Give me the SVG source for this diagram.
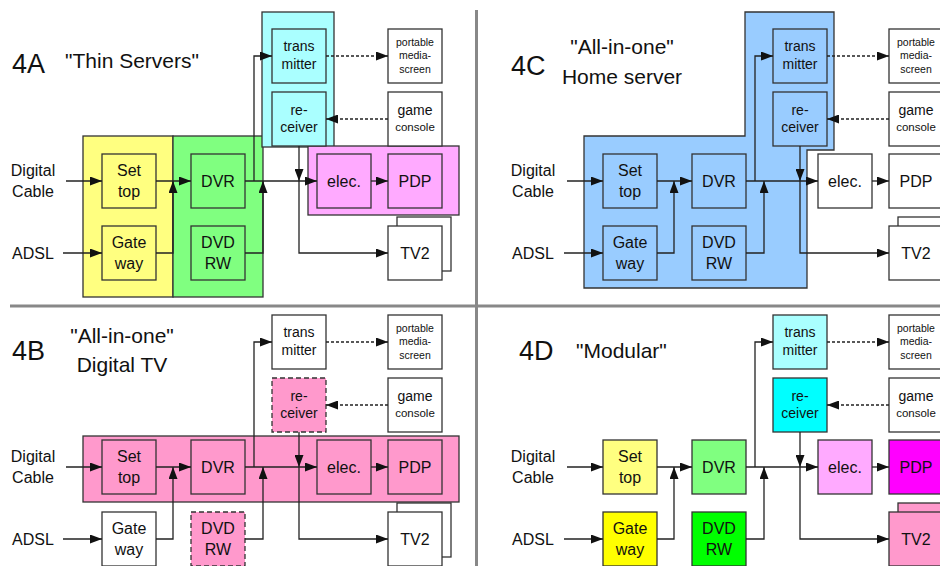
<svg xmlns="http://www.w3.org/2000/svg" width="940" height="566" viewBox="0 0 940 566">
<defs>
<marker id="arr" viewBox="0 0 12 9" refX="12" refY="4.5" markerWidth="12" markerHeight="9" markerUnits="userSpaceOnUse" orient="auto">
<path d="M0,0 L12,4.5 L0,9 z" fill="#111"/>
</marker>
<style>
text { font-family: "Liberation Sans", Arial, Helvetica, sans-serif; fill:#111; }
.l { font-size:16px; text-anchor:middle; }
.m { font-size:14px; text-anchor:middle; }
.s { font-size:10.5px; text-anchor:middle; }
.c { font-size:11.5px; text-anchor:middle; }
.t { font-size:21px; }
.tm { font-size:21px; text-anchor:middle; }
.big { font-size:27px; }
.box { stroke:#333; stroke-width:1.3; }
.grp { stroke:#333; stroke-width:1.3; }
.dsh { stroke-dasharray:5 3; }
.conn { fill:none; stroke:#222; stroke-width:1.3; }
.dl { stroke-dasharray:3 2; }
.div { stroke:#888; stroke-width:3; }
</style>
</defs>
<rect width="940" height="566" fill="#fff"/>

<!-- dividers -->
<line class="div" x1="476.5" y1="10" x2="476.5" y2="566"/>
<line class="div" x1="10" y1="306" x2="940" y2="306"/>

<!-- titles -->
<g id="titles">
<text class="big" x="12" y="73">4A</text>
<text class="t" x="65" y="68">"Thin Servers"</text>
<text class="big" x="511" y="75">4C</text>
<text class="tm" x="622" y="54">"All-in-one"</text>
<text class="tm" x="622" y="84">Home server</text>
<text class="big" x="12" y="360">4B</text>
<text class="tm" x="122" y="343">"All-in-one"</text>
<text class="tm" x="122" y="372">Digital TV</text>
<text class="big" x="519" y="360">4D</text>
<text class="t" x="576" y="358">"Modular"</text>
</g>

<!-- ================= 4A ================= -->
<g id="quad-4A">
<rect class="grp" x="83" y="136" width="90" height="161" fill="#ffff80"/>
<rect class="grp" x="173" y="136" width="90" height="161" fill="#80ff80"/>
<rect class="grp" x="262" y="12" width="72" height="135" fill="#aaffff"/>
<rect class="grp" x="308" y="146" width="151" height="69" fill="#ffaaff"/>
<g id="a-in-cable"><text class="l" x="33" y="176">Digital</text><text class="l" x="33" y="197">Cable</text></g>
<g id="a-in-adsl"><text class="l" x="33" y="259">ADSL</text></g>
<g id="a-settop"><rect class="box" x="102" y="154" width="54" height="54" fill="#ffff80"/><text class="l" x="129" y="176">Set</text><text class="l" x="129" y="197">top</text></g>
<g id="a-gateway"><rect class="box" x="102" y="226" width="54" height="54" fill="#ffff80"/><text class="l" x="129" y="248">Gate</text><text class="l" x="129" y="269">way</text></g>
<g id="a-dvr"><rect class="box" x="191" y="154" width="54" height="54" fill="#80ff80"/><text class="l" x="218" y="187">DVR</text></g>
<g id="a-dvdrw"><rect class="box" x="191" y="226" width="54" height="54" fill="#80ff80"/><text class="l" x="218" y="248">DVD</text><text class="l" x="218" y="269">RW</text></g>
<g id="a-trans"><rect class="box" x="272" y="29" width="54" height="54" fill="#aaffff"/><text class="m" x="299" y="50.5">trans</text><text class="m" x="299" y="69">mitter</text></g>
<g id="a-recv"><rect class="box" x="272" y="92" width="54" height="54" fill="#aaffff"/><text class="m" x="299" y="114.5">re-</text><text class="m" x="299" y="132">ceiver</text></g>
<g id="a-portable"><rect class="box" x="388" y="29" width="54" height="54" fill="#fff"/><text class="s" x="415" y="45.7">portable</text><text class="s" x="415" y="59.2">media-</text><text class="s" x="415" y="72.7">screen</text></g>
<g id="a-game"><rect class="box" x="388" y="92" width="54" height="54" fill="#fff"/><text class="m" x="415" y="115">game</text><text class="c" x="415" y="131">console</text></g>
<g id="a-elec"><rect class="box" x="317" y="154" width="54" height="54" fill="#ffaaff"/><text class="l" x="344" y="187">elec.</text></g>
<g id="a-pdp"><rect class="box" x="388" y="154" width="54" height="54" fill="#ffaaff"/><text class="l" x="415" y="187">PDP</text></g>
<g id="a-tv2"><rect class="box" x="397" y="217" width="54" height="54" fill="#fff"/><rect class="box" x="388" y="226" width="54" height="54" fill="#fff"/><text class="l" x="415" y="259">TV2</text></g>
<g id="a-connectors">
<path class="conn" marker-end="url(#arr)" d="M66,181 H102"/>
<path class="conn" marker-end="url(#arr)" d="M63,253 H102"/>
<path class="conn" marker-end="url(#arr)" d="M156,181 H191"/>
<path class="conn" marker-end="url(#arr)" d="M156,253 H173 V181"/>
<path class="conn" marker-end="url(#arr)" d="M245,181 H317"/>
<path class="conn" marker-end="url(#arr)" d="M254,181 V56 H272"/>
<path class="conn" marker-end="url(#arr)" d="M245,253 H263 V181"/>
<path class="conn" marker-end="url(#arr)" d="M299,146 V181"/>
<path class="conn" marker-end="url(#arr)" d="M299,181 V253 H388"/>
<path class="conn" marker-end="url(#arr)" d="M371,181 H388"/>
<path class="conn dl" marker-end="url(#arr)" d="M326,56 H388"/>
<path class="conn dl" marker-end="url(#arr)" d="M388,119 H326"/>
</g>
</g>

<!-- ================= 4C ================= -->
<g id="quad-4C" transform="translate(501,0)">
<polygon class="grp" points="83,136 244,136 244,12 333,12 333,150 306,150 306,288 83,288" fill="#99ccff"/>
<g id="c-in-cable"><text class="l" x="32" y="176">Digital</text><text class="l" x="32" y="197">Cable</text></g>
<g id="c-in-adsl"><text class="l" x="32" y="259">ADSL</text></g>
<g id="c-settop"><rect class="box" x="102" y="154" width="54" height="54" fill="#99ccff"/><text class="l" x="129" y="176">Set</text><text class="l" x="129" y="197">top</text></g>
<g id="c-gateway"><rect class="box" x="102" y="226" width="54" height="54" fill="#99ccff"/><text class="l" x="129" y="248">Gate</text><text class="l" x="129" y="269">way</text></g>
<g id="c-dvr"><rect class="box" x="191" y="154" width="54" height="54" fill="#99ccff"/><text class="l" x="218" y="187">DVR</text></g>
<g id="c-dvdrw"><rect class="box" x="191" y="226" width="54" height="54" fill="#99ccff"/><text class="l" x="218" y="248">DVD</text><text class="l" x="218" y="269">RW</text></g>
<g id="c-trans"><rect class="box" x="272" y="29" width="54" height="54" fill="#99ccff"/><text class="m" x="299" y="50.5">trans</text><text class="m" x="299" y="69">mitter</text></g>
<g id="c-recv"><rect class="box" x="272" y="92" width="54" height="54" fill="#99ccff"/><text class="m" x="299" y="114.5">re-</text><text class="m" x="299" y="132">ceiver</text></g>
<g id="c-portable"><rect class="box" x="388" y="29" width="54" height="54" fill="#fff"/><text class="s" x="415" y="45.7">portable</text><text class="s" x="415" y="59.2">media-</text><text class="s" x="415" y="72.7">screen</text></g>
<g id="c-game"><rect class="box" x="388" y="92" width="54" height="54" fill="#fff"/><text class="m" x="415" y="115">game</text><text class="c" x="415" y="131">console</text></g>
<g id="c-elec"><rect class="box" x="317" y="154" width="54" height="54" fill="#fff"/><text class="l" x="344" y="187">elec.</text></g>
<g id="c-pdp"><rect class="box" x="388" y="154" width="54" height="54" fill="#fff"/><text class="l" x="415" y="187">PDP</text></g>
<g id="c-tv2"><rect class="box" x="397" y="217" width="54" height="54" fill="#fff"/><rect class="box" x="388" y="226" width="54" height="54" fill="#fff"/><text class="l" x="415" y="259">TV2</text></g>
<g id="c-connectors">
<path class="conn" marker-end="url(#arr)" d="M66,181 H102"/>
<path class="conn" marker-end="url(#arr)" d="M63,253 H102"/>
<path class="conn" marker-end="url(#arr)" d="M156,181 H191"/>
<path class="conn" marker-end="url(#arr)" d="M156,253 H173 V181"/>
<path class="conn" marker-end="url(#arr)" d="M245,181 H317"/>
<path class="conn" marker-end="url(#arr)" d="M254,181 V56 H272"/>
<path class="conn" marker-end="url(#arr)" d="M245,253 H263 V181"/>
<path class="conn" marker-end="url(#arr)" d="M299,146 V181"/>
<path class="conn" marker-end="url(#arr)" d="M299,181 V253 H388"/>
<path class="conn" marker-end="url(#arr)" d="M371,181 H388"/>
<path class="conn dl" marker-end="url(#arr)" d="M326,56 H388"/>
<path class="conn dl" marker-end="url(#arr)" d="M388,119 H326"/>
</g>
</g>

<!-- ================= 4B ================= -->
<g id="quad-4B" transform="translate(0,286)">
<rect class="grp" x="83" y="150" width="376" height="66" fill="#ff99cc"/>
<g id="b-in-cable"><text class="l" x="33" y="176">Digital</text><text class="l" x="33" y="197">Cable</text></g>
<g id="b-in-adsl"><text class="l" x="33" y="259">ADSL</text></g>
<g id="b-settop"><rect class="box" x="102" y="154" width="54" height="54" fill="#ff99cc"/><text class="l" x="129" y="176">Set</text><text class="l" x="129" y="197">top</text></g>
<g id="b-gateway"><rect class="box" x="102" y="226" width="54" height="54" fill="#fff"/><text class="l" x="129" y="248">Gate</text><text class="l" x="129" y="269">way</text></g>
<g id="b-dvr"><rect class="box" x="191" y="154" width="54" height="54" fill="#ff99cc"/><text class="l" x="218" y="187">DVR</text></g>
<g id="b-dvdrw"><rect class="box dsh" x="191" y="226" width="54" height="54" fill="#ff99cc"/><text class="l" x="218" y="248">DVD</text><text class="l" x="218" y="269">RW</text></g>
<g id="b-trans"><rect class="box" x="272" y="29" width="54" height="54" fill="#fff"/><text class="m" x="299" y="50.5">trans</text><text class="m" x="299" y="69">mitter</text></g>
<g id="b-recv"><rect class="box dsh" x="272" y="92" width="54" height="54" fill="#ff99cc"/><text class="m" x="299" y="114.5">re-</text><text class="m" x="299" y="132">ceiver</text></g>
<g id="b-portable"><rect class="box" x="388" y="29" width="54" height="54" fill="#fff"/><text class="s" x="415" y="45.7">portable</text><text class="s" x="415" y="59.2">media-</text><text class="s" x="415" y="72.7">screen</text></g>
<g id="b-game"><rect class="box" x="388" y="92" width="54" height="54" fill="#fff"/><text class="m" x="415" y="115">game</text><text class="c" x="415" y="131">console</text></g>
<g id="b-elec"><rect class="box" x="317" y="154" width="54" height="54" fill="#ff99cc"/><text class="l" x="344" y="187">elec.</text></g>
<g id="b-pdp"><rect class="box" x="388" y="154" width="54" height="54" fill="#ff99cc"/><text class="l" x="415" y="187">PDP</text></g>
<g id="b-tv2"><rect class="box" x="397" y="217" width="54" height="54" fill="#fff"/><rect class="box" x="388" y="226" width="54" height="54" fill="#fff"/><text class="l" x="415" y="259">TV2</text></g>
<g id="b-connectors">
<path class="conn" marker-end="url(#arr)" d="M66,181 H102"/>
<path class="conn" marker-end="url(#arr)" d="M63,253 H102"/>
<path class="conn" marker-end="url(#arr)" d="M156,181 H191"/>
<path class="conn" marker-end="url(#arr)" d="M156,253 H173 V181"/>
<path class="conn" marker-end="url(#arr)" d="M245,181 H317"/>
<path class="conn" marker-end="url(#arr)" d="M254,181 V56 H272"/>
<path class="conn" marker-end="url(#arr)" d="M245,253 H263 V181"/>
<path class="conn" marker-end="url(#arr)" d="M299,146 V181"/>
<path class="conn" marker-end="url(#arr)" d="M299,181 V253 H388"/>
<path class="conn" marker-end="url(#arr)" d="M371,181 H388"/>
<path class="conn dl" marker-end="url(#arr)" d="M326,56 H388"/>
<path class="conn dl" marker-end="url(#arr)" d="M388,119 H326"/>
</g>
</g>

<!-- ================= 4D ================= -->
<g id="quad-4D" transform="translate(501,286)">
<g id="d-in-cable"><text class="l" x="32" y="176">Digital</text><text class="l" x="32" y="197">Cable</text></g>
<g id="d-in-adsl"><text class="l" x="32" y="259">ADSL</text></g>
<g id="d-settop"><rect class="box" x="102" y="154" width="54" height="54" fill="#ffff80"/><text class="l" x="129" y="176">Set</text><text class="l" x="129" y="197">top</text></g>
<g id="d-gateway"><rect class="box" x="102" y="226" width="54" height="54" fill="#ffff00"/><text class="l" x="129" y="248">Gate</text><text class="l" x="129" y="269">way</text></g>
<g id="d-dvr"><rect class="box" x="191" y="154" width="54" height="54" fill="#80ff80"/><text class="l" x="218" y="187">DVR</text></g>
<g id="d-dvdrw"><rect class="box" x="191" y="226" width="54" height="54" fill="#00ff00"/><text class="l" x="218" y="248">DVD</text><text class="l" x="218" y="269">RW</text></g>
<g id="d-trans"><rect class="box" x="272" y="29" width="54" height="54" fill="#aaffff"/><text class="m" x="299" y="50.5">trans</text><text class="m" x="299" y="69">mitter</text></g>
<g id="d-recv"><rect class="box" x="272" y="92" width="54" height="54" fill="#00ffff"/><text class="m" x="299" y="114.5">re-</text><text class="m" x="299" y="132">ceiver</text></g>
<g id="d-portable"><rect class="box" x="388" y="29" width="54" height="54" fill="#fff"/><text class="s" x="415" y="45.7">portable</text><text class="s" x="415" y="59.2">media-</text><text class="s" x="415" y="72.7">screen</text></g>
<g id="d-game"><rect class="box" x="388" y="92" width="54" height="54" fill="#fff"/><text class="m" x="415" y="115">game</text><text class="c" x="415" y="131">console</text></g>
<g id="d-elec"><rect class="box" x="317" y="154" width="54" height="54" fill="#ffaaff"/><text class="l" x="344" y="187">elec.</text></g>
<g id="d-pdp"><rect class="box" x="388" y="154" width="54" height="54" fill="#ff00ff"/><text class="l" x="415" y="187">PDP</text></g>
<g id="d-tv2"><rect class="box" x="397" y="217" width="54" height="54" fill="#ff99cc"/><rect class="box" x="388" y="226" width="54" height="54" fill="#ff99cc"/><text class="l" x="415" y="259">TV2</text></g>
<g id="d-connectors">
<path class="conn" marker-end="url(#arr)" d="M66,181 H102"/>
<path class="conn" marker-end="url(#arr)" d="M63,253 H102"/>
<path class="conn" marker-end="url(#arr)" d="M156,181 H191"/>
<path class="conn" marker-end="url(#arr)" d="M156,253 H173 V181"/>
<path class="conn" marker-end="url(#arr)" d="M245,181 H317"/>
<path class="conn" marker-end="url(#arr)" d="M254,181 V56 H272"/>
<path class="conn" marker-end="url(#arr)" d="M245,253 H263 V181"/>
<path class="conn" marker-end="url(#arr)" d="M299,146 V181"/>
<path class="conn" marker-end="url(#arr)" d="M299,181 V253 H388"/>
<path class="conn" marker-end="url(#arr)" d="M371,181 H388"/>
<path class="conn dl" marker-end="url(#arr)" d="M326,56 H388"/>
<path class="conn dl" marker-end="url(#arr)" d="M388,119 H326"/>
</g>
</g>
</svg>
